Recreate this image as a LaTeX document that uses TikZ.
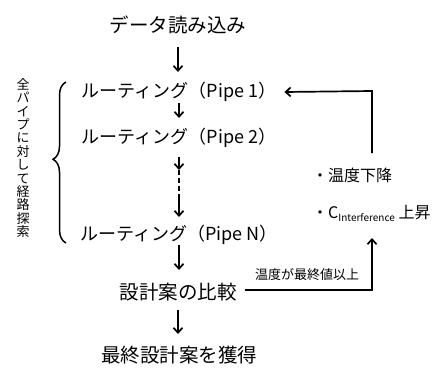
\documentclass[tikz,border=0pt]{standalone}
\usepackage{fontspec}
\setmainfont{Noto Sans CJK JP}
\usetikzlibrary{arrows.meta,decorations.pathreplacing,calc}
\begin{document}
\begin{tikzpicture}[x=1pt,y=-1pt,
  lbl/.style={inner sep=0pt,font=\fontsize{19.5}{19.5}\selectfont},
  rlbl/.style={inner sep=0pt,font=\fontsize{18}{18}\selectfont},
  flow/.style={line width=1.7pt,-{Straight Barb[length=5pt,width=9pt,line width=1.7pt]}},
  plain/.style={line width=1.7pt}]
\useasboundingbox (0,0) rectangle (436,370);
\node[lbl] (data) at (178,25) {データ読み込み};
\node[rlbl] (p1) at (179,92) {ルーティング（Pipe 1）};
\node[rlbl] (p2) at (179,138) {ルーティング（Pipe 2）};
\node[rlbl] (pn) at (179,235) {ルーティング（Pipe N）};
\node[lbl] (cmp) at (178,292) {設計案の比較};
\node[lbl] (fin) at (179,355) {最終設計案を獲得};
\coordinate (d1) at (179,170);
\coordinate (d2) at (179,197);
\coordinate (c1) at (372,290);
\coordinate (c2) at (372,91);
\coordinate (u1) at (372,238);
\coordinate (u2) at (372,153);
\draw[flow] (178,47) -- (178,72);
\draw[flow] (179,103) -- (179,118);
\draw[flow] (179,157) -- (d1);
\draw[plain,dash pattern=on 5pt off 3pt] (d1) -- (d2);
\draw[flow] (d2) -- (179,217);
\draw[flow] (179,245) -- (179,270);
\draw[flow] (178,310) -- (178,334);
\draw[flow] ($(cmp.east)+(8,-2)$) coordinate (ce) -- (ce -| c1) -- (u1);
\draw[flow] (u2) -- (c2) -- ($(p1.east)+(8,0)$);
\node[inner sep=0pt,font=\fontsize{13}{13}\selectfont] (cond) at (307,275) {温度が最終値以上};
\node[inner sep=0pt,anchor=west,font=\fontsize{16}{16}\selectfont] (t1) at (312,175) {・温度下降};
\node[inner sep=0pt,anchor=west,font=\fontsize{16}{16}\selectfont] (t2) at (312,213) {・C\raisebox{-0.35ex}{\fontsize{10}{10}\selectfont Interference} 上昇};
\node[inner sep=0pt,align=center,font=\fontsize{13}{13.4}\selectfont] (vt) at (23,158) {全\\パ\\イ\\プ\\に\\対\\し\\て\\経\\路\\探\\索};
\draw[line width=1.5pt,decorate,decoration={brace,amplitude=13pt,aspect=0.48,mirror}] (66,82) -- (66,243);
\end{tikzpicture}
\end{document}
